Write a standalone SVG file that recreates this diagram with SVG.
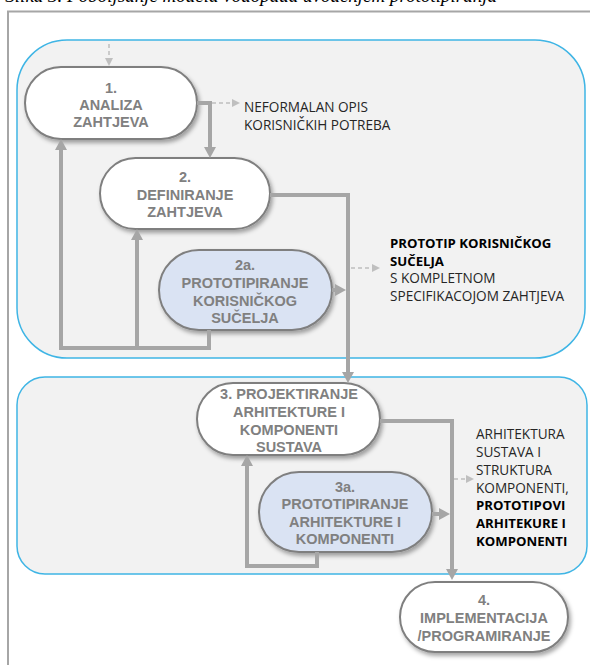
<svg xmlns="http://www.w3.org/2000/svg" width="590" height="665" viewBox="0 0 590 665">
<style>
.node{stroke:#7f7f7f;stroke-width:2;filter:url(#sh)}
.white{fill:#ffffff}
.blue{fill:#dae3f3}
.nt{font-family:"Liberation Sans",Arial,sans-serif;font-weight:bold;font-size:14.5px;fill:#808080;text-anchor:middle}
.lb{font-family:"Open Sans","Liberation Sans",sans-serif;font-size:13.6px;fill:#262626}
.lbb{font-family:"Open Sans","Liberation Sans",sans-serif;font-size:13.2px;font-weight:bold;fill:#000}
.con{fill:none;stroke:#a6a6a6;stroke-width:4;marker-end:url(#ah)}
.dash{fill:none;stroke:#bfbfbf;stroke-width:1.5;stroke-dasharray:4 3;marker-end:url(#ad)}
.region{fill:#f2f2f2;stroke:#3fb5e5;stroke-width:1.5}
</style>
<defs>
<filter id="sh" x="-20%" y="-20%" width="140%" height="150%">
<feDropShadow dx="2" dy="3" stdDeviation="2" flood-color="#000" flood-opacity="0.35"/>
</filter>
<marker id="ah" markerUnits="userSpaceOnUse" viewBox="0 0 11 12" markerWidth="11" markerHeight="12" refX="2" refY="6" orient="auto">
<path d="M0,0 L11,6 L0,12 z" fill="#a6a6a6"/>
</marker>
<marker id="ad" markerUnits="userSpaceOnUse" viewBox="0 0 8 8" markerWidth="8" markerHeight="8" refX="1" refY="4" orient="auto">
<path d="M0,0 L8,4 L0,8 z" fill="#bfbfbf"/>
</marker>
</defs>
<rect width="590" height="665" fill="#ffffff"/>
<text x="497" y="2" text-anchor="end" font-family="Liberation Serif,serif" font-style="italic" font-size="19px" fill="#000">Slika 3. Poboljšanje modela vodopada uvođenjem prototipiranja</text>
<path d="M8,665 V11.5 H590" fill="none" stroke="#a6a6a6" stroke-width="2"/>
<g id="regions">
<rect class="region" x="17" y="40" width="568" height="318" rx="50"/>
<rect class="region" x="17" y="377" width="570" height="197" rx="28"/>
</g>
<g id="n1">
<rect class="node white" x="25" y="67" width="172" height="72" rx="36"/>
<text class="nt" x="111" y="93">1.</text>
<text class="nt" x="111" y="110">ANALIZA</text>
<text class="nt" x="111" y="127">ZAHTJEVA</text>
</g>
<g id="n2">
<rect class="node white" x="100" y="158" width="170" height="71" rx="35.5"/>
<text class="nt" x="185" y="182">2.</text>
<text class="nt" x="185" y="199.5">DEFINIRANJE</text>
<text class="nt" x="185" y="217">ZAHTJEVA</text>
</g>
<g id="n2a">
<rect class="node blue" x="159" y="250" width="173" height="80" rx="40"/>
<text class="nt" x="245" y="270">2a.</text>
<text class="nt" x="245" y="288">PROTOTIPIRANJE</text>
<text class="nt" x="245" y="306">KORISNIČKOG</text>
<text class="nt" x="245" y="323">SUČELJA</text>
</g>
<g id="n3">
<rect class="node white" x="197" y="383" width="183" height="72" rx="36"/>
<text class="nt" x="289" y="399">3. PROJEKTIRANJE</text>
<text class="nt" x="289" y="417">ARHITEKTURE I</text>
<text class="nt" x="289" y="435">KOMPONENTI</text>
<text class="nt" x="289" y="452">SUSTAVA</text>
</g>
<g id="n3a">
<rect class="node blue" x="259" y="472" width="173" height="80" rx="40"/>
<text class="nt" x="345" y="492">3a.</text>
<text class="nt" x="345" y="509">PROTOTIPIRANJE</text>
<text class="nt" x="345" y="527">ARHITEKTURE I</text>
<text class="nt" x="345" y="544">KOMPONENTI</text>
</g>
<g id="n4">
<rect class="node white" x="400" y="582" width="168" height="70" rx="35"/>
<text class="nt" x="484" y="605">4.</text>
<text class="nt" x="484" y="623">IMPLEMENTACIJA</text>
<text class="nt" x="484" y="641">/PROGRAMIRANJE</text>
</g>
<g id="connectors">
<path class="con" d="M197,103 H210 V149"/>
<path class="con" d="M270,195 H348 V374"/>
<path class="con" d="M332,290 H337"/>
<path class="con" d="M209,330 V348 H61 V148"/>
<path class="con" d="M137,348 V238"/>
<path class="con" d="M380,421 H452 V571"/>
<path class="con" d="M432,514 H441"/>
<path class="con" d="M317,552 V566 H247 V464"/>
<path class="dash" d="M109,44 V59"/>
<path class="dash" d="M212,103 H233"/>
<path class="dash" d="M351,268 H373"/>
<path class="dash" d="M454,479 H467"/>
</g>
<g id="labels">
<text class="lb" x="244" y="112">NEFORMALAN OPIS</text>
<text class="lb" x="244" y="130">KORISNIČKIH POTREBA</text>
<text class="lbb" x="390" y="248">PROTOTIP KORISNIČKOG</text>
<text class="lbb" x="390" y="266">SUČELJA</text>
<text class="lb" x="390" y="283">S KOMPLETNOM</text>
<text class="lb" x="390" y="301">SPECIFIKACOJOM ZAHTJEVA</text>
<text class="lb" x="476" y="439">ARHITEKTURA</text>
<text class="lb" x="476" y="457">SUSTAVA I</text>
<text class="lb" x="476" y="475">STRUKTURA</text>
<text class="lb" x="476" y="493">KOMPONENTI,</text>
<text class="lbb" x="476" y="510">PROTOTIPOVI</text>
<text class="lbb" x="476" y="528">ARHITEKURE I</text>
<text class="lbb" x="476" y="546">KOMPONENTI</text>
</g>
</svg>
